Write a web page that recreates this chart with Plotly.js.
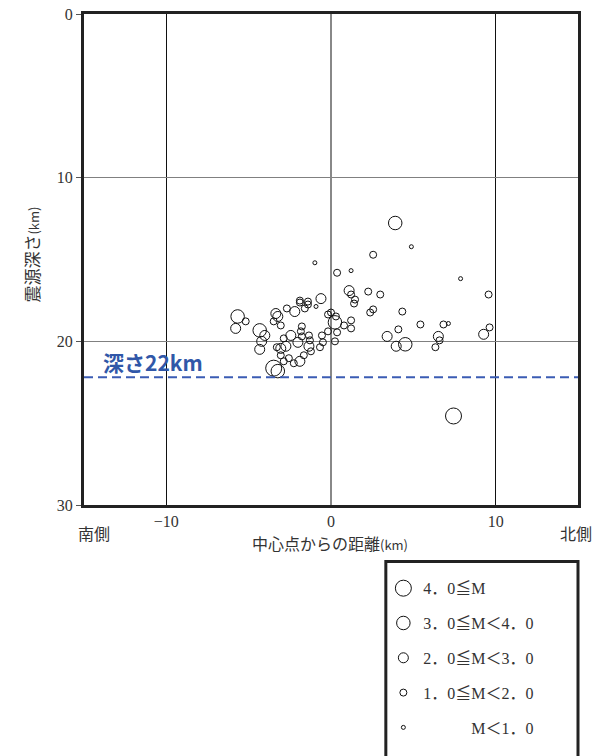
<!DOCTYPE html>
<html><head><meta charset="utf-8">
<script src="https://cdn.plot.ly/plotly-3.0.1.min.js"></script>
<style>html,body{margin:0;padding:0;background:#fff}#chart{width:607px;height:756px}</style>
</head><body><div id="chart"></div>
<script>
// distance from centre point (km, south negative), hypocentre depth (km), magnitude class index
const distance = [3.90,4.88,2.56,7.87,9.57,2.99,4.33,2.56,2.38,5.43,6.83,7.13,4.09,3.41,3.96,4.51,6.52,6.59,6.34,9.27,9.63,7.44,
 -0.98,0.37,1.22,1.10,1.22,1.46,1.40,2.26,-0.61,-0.91,-1.89,-1.89,-1.40,-1.40,-1.59,-2.20,-2.68,-3.35,-3.23,-3.48,-3.05,
 -5.67,-5.18,-5.79,-4.33,-4.02,-4.21,-4.33,0.00,0.30,-0.18,0.24,0.79,1.22,1.22,0.37,0.24,-0.18,-0.55,-0.49,-0.67,
 -1.77,-1.83,-1.77,-2.44,-2.87,-2.01,-1.34,-1.28,-1.34,-1.22,-1.65,-1.89,-2.26,-2.56,-2.74,-3.05,-3.29,-3.05,-2.87,-3.48,-3.23];
const depth = [12.77,14.22,14.71,16.17,17.14,17.14,18.18,18.05,18.24,18.97,18.97,18.91,19.27,19.70,20.30,20.18,19.70,19.94,20.36,19.57,19.15,24.56,
 15.20,15.81,15.68,16.90,17.14,17.45,17.69,16.96,17.39,17.87,17.51,17.63,17.57,17.75,17.99,18.18,17.99,18.30,18.48,18.78,19.03,
 18.48,18.78,19.21,19.33,19.64,20.00,20.49,18.24,18.48,18.36,18.84,19.03,18.72,19.21,19.45,20.00,19.39,19.64,20.06,20.36,
 19.09,19.39,19.70,19.64,19.82,20.06,19.64,19.94,20.30,20.61,20.85,21.22,21.34,21.03,20.30,20.43,20.36,20.85,21.22,21.64,21.82];
const magClass = [1,4,3,4,3,3,3,3,3,3,3,4,3,2,2,1,2,3,3,2,3,0,
 4,3,4,2,3,3,3,3,2,4,3,3,3,3,3,2,3,2,2,3,3,
 1,3,2,1,2,2,2,3,3,3,1,3,3,3,3,3,3,3,3,3,
 3,3,3,2,3,2,3,3,2,3,3,2,3,3,2,2,3,3,3,0,1];
const classLabels = ["4．0≦M","3．0≦M＜4．0","2．0≦M＜3．0","1．0≦M＜2．0","\u3000\u3000\u3000M＜1．0"];
const xTickVals = [-10,0,10];
const xTickText = ["−10","0","10"];
const yTickVals = [0,10,20,30];
const refDepth = 22.2;
const refLabel = "深さ22km";

const markerSizes = [16,13.5,10,7,4];
const serif = "'Liberation Serif','Noto Sans CJK JP',serif";
const jp = "'Noto Sans CJK JP','Liberation Serif',sans-serif";

const traces = classLabels.map((lab,k)=>{
  const xs=[],ys=[];
  magClass.forEach((c,i)=>{ if(c===k){xs.push(distance[i]);ys.push(depth[i]);} });
  return {type:'scatter',mode:'markers',x:xs,y:ys,name:lab,legendgroup:'g'+k,
    marker:{size:markerSizes[k],color:'rgba(0,0,0,0)',line:{color:'#111',width:1}},
    hoverinfo:'skip'};
});

const layout = {
  width:607,height:756,
  margin:{l:84,r:29,t:14,b:248},
  paper_bgcolor:'#fff',plot_bgcolor:'#fff',
  font:{family:serif,size:16,color:'#333'},
  xaxis:{range:[-15,15],tickvals:xTickVals,ticktext:xTickText,showgrid:true,gridcolor:'#111',gridwidth:1,
    zeroline:true,zerolinecolor:'#888',zerolinewidth:2,showline:true,linecolor:'#222',linewidth:3,mirror:true,
    ticks:'',tickfont:{family:serif,size:16,color:'#333'},fixedrange:true},
  yaxis:{range:[30,0],tickvals:yTickVals,showgrid:true,gridcolor:'#808080',gridwidth:1.5,zeroline:false,
    showline:true,linecolor:'#222',linewidth:3,mirror:true,ticks:'outside',ticklen:5,tickcolor:'#555',
    tickfont:{family:serif,size:16,color:'#333'},fixedrange:true},
  showlegend:true,
  legend:{x:0.606,xanchor:'left',y:-0.135,yanchor:'top',bgcolor:'rgba(0,0,0,0)',borderwidth:0,
    font:{family:serif,size:16,color:'#333'},tracegroupgap:11,itemsizing:'trace'},
  shapes:[
    {type:'line',xref:'x domain',yref:'y',x0:0,x1:1,y0:refDepth,y1:refDepth,
      line:{color:'#3b5cb4',width:2,dash:'9px,5px'}},
    {type:'rect',xref:'paper',yref:'paper',x0:0.611,x1:1.0,y0:-0.115,y1:-0.53,
      line:{color:'#222',width:3},fillcolor:'rgba(0,0,0,0)'}
  ],
  annotations:[
    {x:-13.95,y:refDepth-0.95,xref:'x',yref:'y',text:'<b>'+refLabel+'</b>',showarrow:false,xanchor:'left',yanchor:'middle',
      font:{family:jp,size:21,color:'#3057a8'}},
    {xref:'paper',yref:'paper',x:(94-84)/494,y:(508-536)/494,text:'南側',showarrow:false,xanchor:'center',yanchor:'middle',
      font:{family:jp,size:16,color:'#333'}},
    {xref:'paper',yref:'paper',x:(576-84)/494,y:(508-536)/494,text:'北側',showarrow:false,xanchor:'center',yanchor:'middle',
      font:{family:jp,size:16,color:'#333'}},
    {xref:'paper',yref:'paper',x:(330-84)/494,y:(508-546)/494,text:'中心点からの距離<span style="font-size:13px">(km)</span>',showarrow:false,
      xanchor:'center',yanchor:'middle',font:{family:jp,size:16,color:'#333'}},
    {xref:'paper',yref:'paper',x:(32-84)/494,y:(508-256)/494,text:'震源深さ<span style="font-size:13px">(km)</span>',showarrow:false,
      textangle:-90,xanchor:'center',yanchor:'middle',font:{family:jp,size:17,color:'#333'}}
  ]
};
Plotly.newPlot('chart',traces,layout,{displayModeBar:false,staticPlot:true});
</script></body></html>
